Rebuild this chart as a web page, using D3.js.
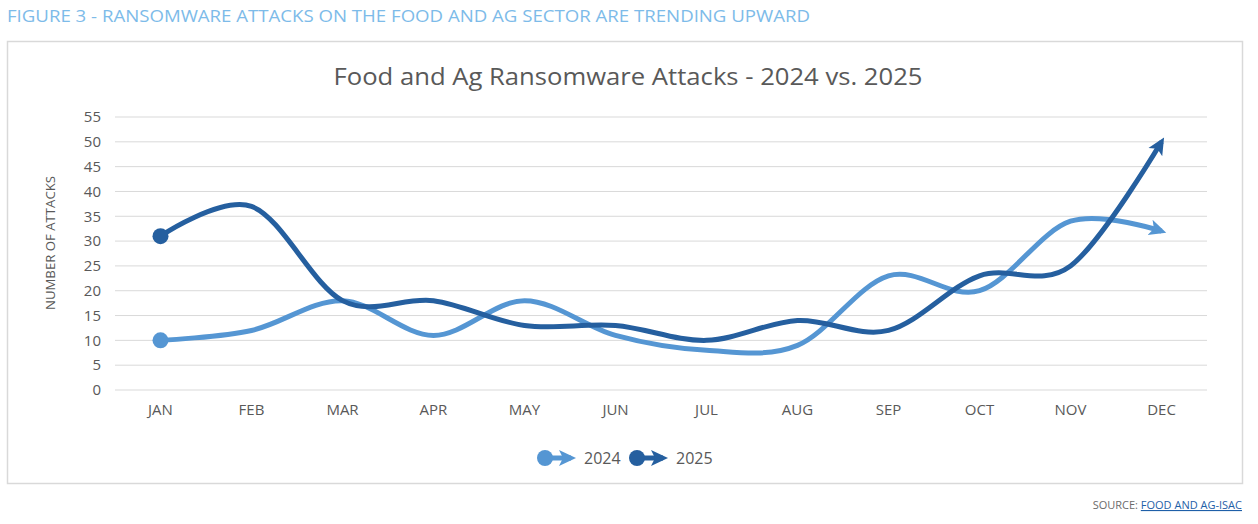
<!DOCTYPE html>
<html>
<head>
<meta charset="utf-8">
<script src="https://cdn.jsdelivr.net/npm/d3@7"></script>
<style>
  body { margin: 0; background: #fff; }
  text { font-family: "Open Sans", "Noto Sans", sans-serif; }
</style>
</head>
<body>
<div id="chart"></div>
<script>
// data
var months = ["JAN","FEB","MAR","APR","MAY","JUN","JUL","AUG","SEP","OCT","NOV","DEC"];
var attacks2024 = [10, 12, 18, 11, 18, 11, 8, 9, 23, 20, 34, 32];
var attacks2025 = [31, 37, 18, 18, 13, 13, 10, 14, 12, 23, 25, 50];
var yTicks = [0, 5, 10, 15, 20, 25, 30, 35, 40, 45, 50, 55];
var seriesNames = ["2024", "2025"];
var seriesColors = ["#5596d3", "#255f9f"];

var W = 1258, H = 524;
var plot = {left: 115, right: 1207, top: 117, bottom: 390};

var svg = d3.select("#chart")
  .append("svg")
  .attr("width", W)
  .attr("height", H);

// markers (circle at start, arrow at end)
var defs = svg.append("defs");
seriesColors.forEach(function(c, i) {
  defs.append("marker")
    .attr("id", "dot" + i)
    .attr("markerUnits", "userSpaceOnUse")
    .attr("markerWidth", 20).attr("markerHeight", 20)
    .attr("refX", 10).attr("refY", 10)
    .append("circle")
    .attr("cx", 10).attr("cy", 10).attr("r", 8)
    .attr("fill", c);
  defs.append("marker")
    .attr("id", "arrow" + i)
    .attr("markerUnits", "userSpaceOnUse")
    .attr("orient", "auto")
    .attr("markerWidth", 20).attr("markerHeight", 20)
    .attr("refX", 12).attr("refY", 10)
    .append("path")
    .attr("d", "M0,2 L17,10 L0,18 L4,10 Z")
    .attr("fill", c);
});

// header
svg.append("text")
  .attr("x", 7).attr("y", 22)
  .text("FIGURE 3 - RANSOMWARE ATTACKS ON THE FOOD AND AG SECTOR ARE TRENDING UPWARD")
  .style("font-size", "16px")
  .attr("textLength", 803)
  .attr("lengthAdjust", "spacingAndGlyphs")
  .attr("fill", "#7dbbe9");

// card
svg.append("rect")
  .attr("x", 7.5).attr("y", 41.5)
  .attr("width", 1235).attr("height", 442)
  .attr("fill", "none")
  .attr("stroke", "#d9d9d9")
  .attr("stroke-width", 1.5);

// title
svg.append("text")
  .attr("x", 628).attr("y", 85)
  .attr("text-anchor", "middle")
  .text("Food and Ag Ransomware Attacks - 2024 vs. 2025")
  .style("font-size", "23px")
  .attr("textLength", 589)
  .attr("lengthAdjust", "spacingAndGlyphs")
  .attr("fill", "#595959");

// scales
var x = d3.scaleBand()
  .domain(months)
  .range([plot.left, plot.right]);

var y = d3.scaleLinear()
  .domain([0, 55])
  .range([plot.bottom, plot.top]);

// gridlines
svg.append("g")
  .selectAll("line")
  .data(yTicks)
  .enter().append("line")
  .attr("x1", plot.left).attr("x2", plot.right)
  .attr("y1", function(d) { return y(d); })
  .attr("y2", function(d) { return y(d); })
  .attr("stroke", "#d9d9d9")
  .attr("stroke-width", 1);

// y axis
var yAxis = svg.append("g")
  .attr("transform", "translate(" + (plot.left - 14) + ",0)")
  .call(d3.axisLeft(y).tickValues(yTicks).tickSize(0).tickPadding(0));
yAxis.select(".domain").remove();
yAxis.selectAll("text")
  .style("font-size", "15px")
  .style("font-family", "'Open Sans', sans-serif")
  .attr("fill", "#595959");

// x axis
var xAxis = svg.append("g")
  .attr("transform", "translate(0," + (plot.bottom + 14) + ")")
  .call(d3.axisBottom(x).tickSize(0).tickPadding(0));
xAxis.select(".domain").remove();
xAxis.selectAll("text")
  .style("font-size", "15px")
  .style("font-family", "'Open Sans', sans-serif")
  .attr("fill", "#595959");

// y label
svg.append("text")
  .attr("transform", "translate(55,243) rotate(-90)")
  .attr("text-anchor", "middle")
  .text("NUMBER OF ATTACKS")
  .style("font-size", "12px")
  .attr("textLength", 134)
  .attr("lengthAdjust", "spacingAndGlyphs")
  .attr("fill", "#595959");

// lines
var line = d3.line()
  .x(function(d, i) { return x(months[i]) + x.bandwidth() / 2; })
  .y(function(d) { return y(d); })
  .curve(d3.curveCatmullRom.alpha(0));

[attacks2024, attacks2025].forEach(function(vals, i) {
  svg.append("path")
    .datum(vals)
    .attr("d", line)
    .attr("fill", "none")
    .attr("stroke", seriesColors[i])
    .attr("stroke-width", 5)
    .attr("marker-start", "url(#dot" + i + ")")
    .attr("marker-end", "url(#arrow" + i + ")");
});

// legend
var legend = svg.append("g").attr("transform", "translate(545,458)");
seriesNames.forEach(function(name, i) {
  var g = legend.append("g").attr("transform", "translate(" + (i * 92) + ",0)");
  g.append("path")
    .attr("d", "M0,0 L26,0")
    .attr("stroke", seriesColors[i])
    .attr("stroke-width", 5)
    .attr("marker-start", "url(#dot" + i + ")")
    .attr("marker-end", "url(#arrow" + i + ")");
  g.append("text")
    .attr("x", 39).attr("y", 6)
    .text(name)
    .style("font-size", "16px")
    .attr("fill", "#595959");
});

// source
var src = svg.append("text")
  .attr("x", 1242).attr("y", 509)
  .attr("text-anchor", "end")
  .style("font-size", "11px");
src.append("tspan").text("SOURCE: ").attr("fill", "#6b6b6b");
src.append("tspan").text("FOOD AND AG-ISAC")
  .attr("fill", "#1f5fa8")
  .attr("text-decoration", "underline");
</script>
</body>
</html>
